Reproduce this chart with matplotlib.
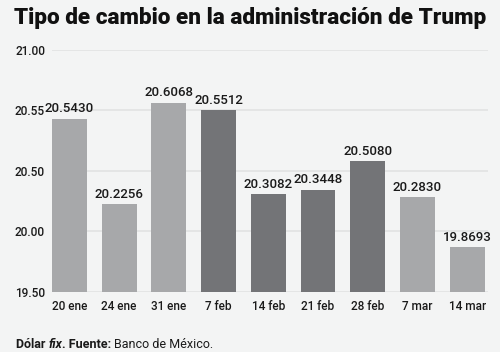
import numpy as np
import matplotlib.pyplot as plt

fechas = ['20 ene', '24 ene', '31 ene', '7 feb', '14 feb', '21 feb', '28 feb', '7 mar', '14 mar']
tipo_cambio = [20.5430, 20.2256, 20.6068, 20.5512, 20.3082, 20.3448, 20.5080, 20.2830, 19.8693]
es_febrero = [False, False, False, True, True, True, True, False, False]
y_ticks = [19.50, 20.00, 20.50, 20.55, 21.00]

bg = '#f3f4f4'
claro = '#a7a8aa'
oscuro = '#737477'
fuente = ['Roboto', 'DejaVu Sans']
tinta = '#1a1a1a'

fig = plt.figure(figsize=(5, 3.52), dpi=100, facecolor=bg)
ax = fig.add_axes([0.104, 0.1705, 0.872, 0.6875], facecolor=bg)

# the axis in the original is not linear: ticks are evenly spaced
pos = np.arange(len(y_ticks))
ax.set_yscale('function', functions=(lambda v: np.interp(v, y_ticks, pos),
                                     lambda p: np.interp(p, pos, y_ticks)))
ax.set_ylim(y_ticks[0], y_ticks[-1])

x = np.arange(len(fechas))
colores = [oscuro if f else claro for f in es_febrero]
ax.bar(x, np.array(tipo_cambio) - y_ticks[0], bottom=y_ticks[0], width=0.7,
       color=colores, zorder=3)
for xi, v in zip(x, tipo_cambio):
    ax.annotate(f'{v:.4f}', (xi, v), xytext=(0, 2.5), textcoords='offset points',
                ha='center', va='bottom', fontsize=9.5, family=fuente,
                fontweight='medium', color=tinta, zorder=4)

ax.set_xlim(-0.35, 8.42)
ax.set_xticks(x)
ax.set_xticklabels(fechas, fontsize=8.5, family=fuente, fontweight='medium', color=tinta)
ax.set_yticks(y_ticks)
ax.set_yticklabels([f'{t:.2f}' for t in y_ticks], fontsize=8.5, family=fuente,
                   fontweight='medium', color=tinta)
ax.yaxis.set_minor_locator(plt.NullLocator())
ax.tick_params(axis='y', length=0, pad=5)
ax.tick_params(axis='x', length=0, pad=6)
ax.grid(axis='y', color='#e1e2e2', lw=1.2, zorder=0)
for s in ax.spines.values():
    s.set_visible(False)

fig.text(0.028, 0.948, 'Tipo de cambio en la administración de Trump',
         fontsize=16.2, fontweight='black', family=fuente,
         va='center', ha='left', color='#111111')

# footer: mixed weights, chained one after another
t1 = fig.text(0.032, 0.004, 'Dólar ', fontsize=9, fontweight='bold',
              family=fuente, color=tinta, va='bottom')
a2 = ax.annotate('fix', xy=(1, 0), xycoords=t1, fontsize=9, fontweight='bold',
                 style='italic', family=fuente, color=tinta, va='bottom',
                 annotation_clip=False)
a3 = ax.annotate('. Fuente: ', xy=(1, 0), xycoords=a2, fontsize=9,
                 fontweight='bold', family=fuente, color=tinta, va='bottom',
                 annotation_clip=False)
ax.annotate('Banco de México.', xy=(1, 0), xycoords=a3, fontsize=9,
            family=fuente, color=tinta, va='bottom', annotation_clip=False)

fig.savefig('out.png', dpi=100, facecolor=bg)
